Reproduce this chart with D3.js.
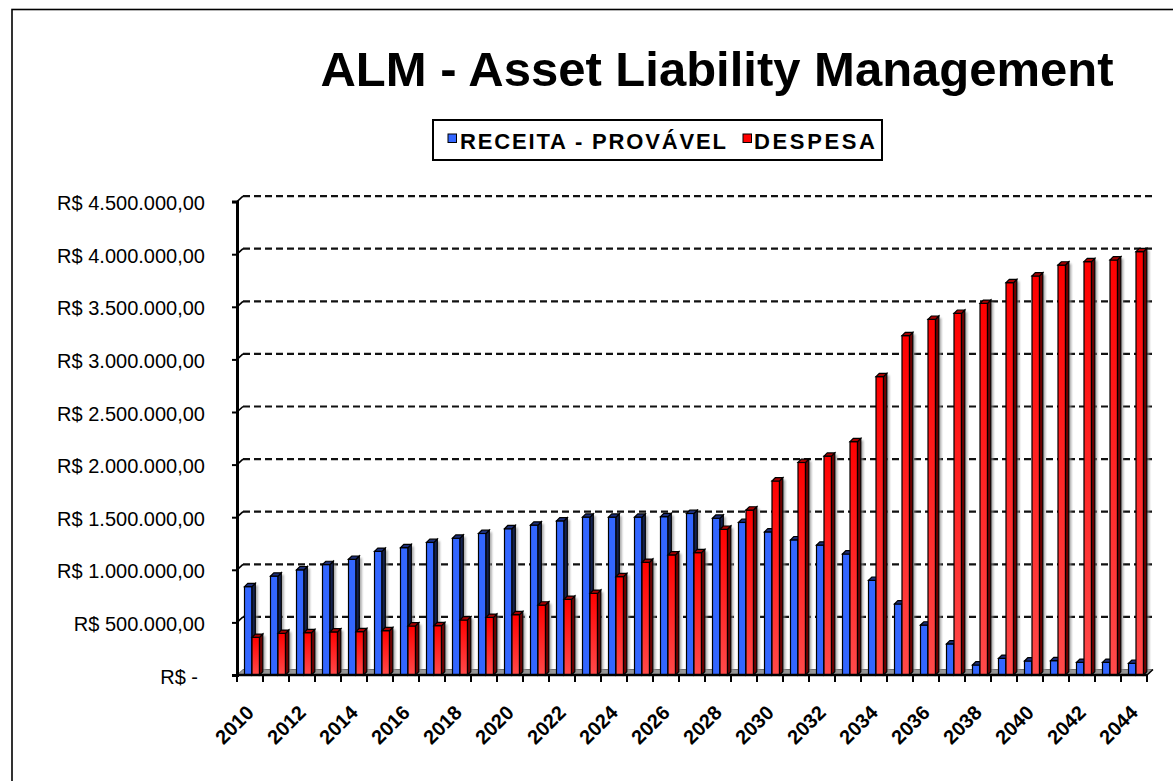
<!DOCTYPE html>
<html>
<head>
<meta charset="utf-8">
<script src="https://cdn.jsdelivr.net/npm/d3@7"></script>
<style>
  html, body { margin: 0; padding: 0; background: #fff; }
  svg { display: block; font-family: "Liberation Sans", Arial, sans-serif; }
</style>
</head>
<body>
<svg id="chart" width="1173" height="781"></svg>
<script>
// ALM projection: expected revenue vs. expenses per year
const years = [2010, 2011, 2012, 2013, 2014, 2015, 2016, 2017, 2018, 2019,
               2020, 2021, 2022, 2023, 2024, 2025, 2026, 2027, 2028, 2029,
               2030, 2031, 2032, 2033, 2034, 2035, 2036, 2037, 2038, 2039,
               2040, 2041, 2042, 2043, 2044];

const receita = [840000, 940000, 1000000, 1050000, 1100000, 1175000, 1210000, 1260000, 1300000, 1345000,
                 1390000, 1425000, 1465000, 1500000, 1500000, 1500000, 1505000, 1535000, 1490000, 1450000,
                 1360000, 1285000, 1235000, 1150000, 900000, 675000, 475000, 295000, 95000, 158000,
                 133000, 136000, 120000, 120000, 111000];

const despesa = [358000, 396000, 402000, 409000, 412000, 421000, 466000, 469000, 523000, 548000,
                 573000, 665000, 719000, 776000, 935000, 1071000, 1141000, 1163000, 1385000, 1568000,
                 1844000, 2020000, 2080000, 2218000, 2836000, 3226000, 3381000, 3438000, 3533000, 3729000,
                 3793000, 3897000, 3929000, 3945000, 4024000];

const seriesKeys = ["receita", "despesa"];
const seriesNames = ["RECEITA - PROVÁVEL", "DESPESA"];
const yTicks = [0, 500000, 1000000, 1500000, 2000000, 2500000, 3000000, 3500000, 4000000, 4500000];
const xLabelYears = [2010, 2012, 2014, 2016, 2018, 2020, 2022, 2024, 2026, 2028,
                     2030, 2032, 2034, 2036, 2038, 2040, 2042, 2044];

const rows = years.map((yr, i) => ({ year: yr, receita: receita[i], despesa: despesa[i] }));

const svg = d3.select("#chart");

// Brazilian currency formatting
const ptBR = d3.formatLocale({ decimal: ",", thousands: ".", grouping: [3], currency: ["R$ ", ""] });
const fmtMoney = ptBR.format(",.2f");
const tickText = v => v === 0 ? "R$ -" : "R$ " + fmtMoney(v);

// Plot geometry
const plot = { left: 237, right: 1147, top: 201.6, bottom: 675 };
const wall = { dx: 6, dy: 5.5 };      // depth of back wall
const bar3d = { dx: 3.3, dy: 3.3 };   // depth of each column

const x = d3.scaleBand().domain(years).range([plot.left, plot.right]).padding(0);
const xs = d3.scaleBand().domain(seriesKeys).range([7.5, 22.5]).padding(0);
const y = d3.scaleLinear().domain([0, 4500000]).range([plot.bottom, plot.top]);

// Outer frame
svg.append("rect")
  .attr("x", 12).attr("y", 9.5).attr("width", 1300).attr("height", 900)
  .attr("fill", "none").attr("stroke", "#000").attr("stroke-width", 1.6);

// Title
svg.append("text")
  .attr("x", 717).attr("y", 86)
  .attr("text-anchor", "middle")
  .attr("font-size", 49).attr("font-weight", "bold")
  .text("ALM - Asset Liability Management");

// Colours
const colors = {
  receita: { front: "#3366ff", side: "#14214f", top: "#1d2f78" },
  despesa: { frontTop: "#ff0000", frontBottom: "#ff4a4a", side: "#6e0000", top: "#a80000" }
};

const defs = svg.append("defs");
const grad = defs.append("linearGradient").attr("id", "redFront")
  .attr("x1", 0).attr("y1", 0).attr("x2", 0).attr("y2", 1);
grad.append("stop").attr("offset", "0%").attr("stop-color", colors.despesa.frontTop);
grad.append("stop").attr("offset", "100%").attr("stop-color", colors.despesa.frontBottom);
const shadowBlur = defs.append("filter").attr("id", "soft")
  .attr("x", "-50%").attr("y", "-5%").attr("width", "200%").attr("height", "110%");
shadowBlur.append("feGaussianBlur").attr("stdDeviation", 1.1);

// Legend
const legend = svg.append("g");
legend.append("rect")
  .attr("x", 433).attr("y", 120).attr("width", 449).attr("height", 40)
  .attr("fill", "#fff").attr("stroke", "#000").attr("stroke-width", 2);
const legendItems = [
  { key: "receita", name: seriesNames[0], sx: 448, tx: 460, len: 266, fill: colors.receita.front },
  { key: "despesa", name: seriesNames[1], sx: 743, tx: 754, len: 121, fill: colors.despesa.frontTop }
];
legendItems.forEach(it => {
  legend.append("rect")
    .attr("x", it.sx).attr("y", 134).attr("width", 8.5).attr("height", 8.5)
    .attr("fill", it.fill).attr("stroke", "#000").attr("stroke-width", 1);
  legend.append("text")
    .attr("x", it.tx).attr("y", 149)
    .attr("font-size", 22).attr("font-weight", "bold")
    .attr("textLength", it.len).attr("lengthAdjust", "spacing")
    .text(it.name);
});

// Back wall gridlines and left-wall connectors
const grid = svg.append("g");
yTicks.filter(v => v > 0).forEach(v => {
  grid.append("line")
    .attr("x1", plot.left + wall.dx).attr("x2", plot.right + wall.dx + 2)
    .attr("y1", y(v) - wall.dy).attr("y2", y(v) - wall.dy)
    .attr("stroke", "#111").attr("stroke-width", 2.2)
    .attr("stroke-dasharray", "7,4");
  grid.append("line")
    .attr("x1", plot.left).attr("x2", plot.left + wall.dx)
    .attr("y1", y(v)).attr("y2", y(v) - wall.dy)
    .attr("stroke", "#000").attr("stroke-width", 1.6);
});

// Floor
svg.append("polygon")
  .attr("points", [
    [plot.left, y(0)], [plot.left + wall.dx, y(0) - wall.dy],
    [plot.right + wall.dx, y(0) - wall.dy], [plot.right, y(0)]
  ].map(p => p.join(",")).join(" "))
  .attr("fill", "#9a9a9a").attr("stroke", "#555").attr("stroke-width", 0.8);

// Columns
const barsG = svg.append("g");
const w = xs.bandwidth();

function drawColumn(g, x0, v, key) {
  const top = y(v), base = y(0);
  const c = colors[key];
  // soft shadow to the right
  g.append("rect")
    .attr("x", x0 + w + bar3d.dx - 1).attr("y", top - bar3d.dy + 2)
    .attr("width", 3.5).attr("height", base - top + bar3d.dy - 3)
    .attr("fill", "#8c8c8c").attr("opacity", 0.75).attr("filter", "url(#soft)");
  // front face
  g.append("rect")
    .attr("x", x0).attr("y", top).attr("width", w).attr("height", base - top)
    .attr("fill", key === "despesa" ? "url(#redFront)" : c.front)
    .attr("stroke", "#000").attr("stroke-width", 1.2);
  // side face
  g.append("polygon")
    .attr("points", [
      [x0 + w, top], [x0 + w + bar3d.dx, top - bar3d.dy],
      [x0 + w + bar3d.dx, base - bar3d.dy], [x0 + w, base]
    ].map(p => p.join(",")).join(" "))
    .attr("fill", c.side).attr("stroke", "#000").attr("stroke-width", 1.2);
  // top face
  g.append("polygon")
    .attr("points", [
      [x0, top], [x0 + bar3d.dx, top - bar3d.dy],
      [x0 + w + bar3d.dx, top - bar3d.dy], [x0 + w, top]
    ].map(p => p.join(",")).join(" "))
    .attr("fill", c.top).attr("stroke", "#000").attr("stroke-width", 1.2);
}

rows.forEach(r => {
  seriesKeys.forEach(k => {
    drawColumn(barsG, x(r.year) + xs(k), r[k], k);
  });
});

// Y axis
const yAxis = d3.axisLeft(y).tickValues(yTicks).tickSize(5).tickPadding(27).tickFormat(tickText);
const yAxisG = svg.append("g").attr("transform", `translate(${plot.left},0)`).call(yAxis);
yAxisG.select(".domain").attr("stroke", "#000").attr("stroke-width", 3);
yAxisG.selectAll(".tick line").attr("stroke", "#000").attr("stroke-width", 2);
yAxisG.selectAll(".tick text")
  .attr("font-size", 20).attr("fill", "#000")
  .attr("font-family", "'Liberation Sans', Arial, sans-serif")
  .attr("dy", "0.4em")
  .attr("dx", d => d === 0 ? -7 : 0);

// X axis: baseline, boundary ticks and rotated year labels
const xAxisG = svg.append("g");
xAxisG.append("line")
  .attr("x1", plot.left).attr("x2", plot.right)
  .attr("y1", y(0)).attr("y2", y(0))
  .attr("stroke", "#000").attr("stroke-width", 2.5);
const boundaries = years.map(yr => x(yr)).concat([x(years[years.length - 1]) + x.bandwidth()]);
xAxisG.selectAll("line.tk").data(boundaries).join("line").attr("class", "tk")
  .attr("x1", d => d).attr("x2", d => d)
  .attr("y1", y(0)).attr("y2", y(0) + 7)
  .attr("stroke", "#000").attr("stroke-width", 2);
// right floor edge
xAxisG.append("line")
  .attr("x1", plot.right).attr("x2", plot.right + wall.dx)
  .attr("y1", y(0)).attr("y2", y(0) - wall.dy)
  .attr("stroke", "#000").attr("stroke-width", 1.4);

xAxisG.selectAll("text.yl").data(xLabelYears).join("text").attr("class", "yl")
  .attr("transform", d => `translate(${x(d) + x.bandwidth() / 2 + 5},${714}) rotate(-45)`)
  .attr("text-anchor", "end")
  .attr("font-size", 20).attr("font-weight", "bold")
  .text(d => d);
</script>
</body>
</html>
